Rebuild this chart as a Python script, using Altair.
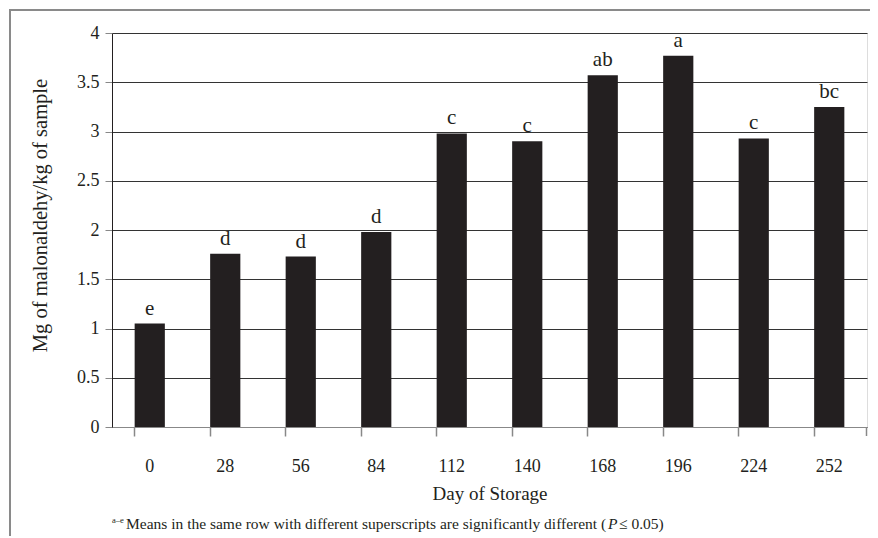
import altair as alt
import pandas as pd

days = ["0", "28", "56", "84", "112", "140", "168", "196", "224", "252"]
values = [1.05, 1.76, 1.73, 1.98, 2.98, 2.90, 3.57, 3.77, 2.93, 3.25]
letters = ["e", "d", "d", "d", "c", "c", "ab", "a", "c", "bc"]

df = pd.DataFrame({"day": days, "value": values, "letter": letters})
one = pd.DataFrame({"k": [0]})

FONT = "Liberation Serif"
W, H = 755, 394

x_enc = alt.X(
    "day:N", sort=days, title="Day of Storage",
    scale=alt.Scale(paddingInner=0.6, paddingOuter=0.3),
    axis=alt.Axis(labelAngle=0, bandPosition=0, tickSize=9, labelPadding=21,
                  domainColor="#888888", tickColor="#888888", tickWidth=1.5,
                  labelFont=FONT, labelFontSize=18, labelColor="#231F20",
                  titleFont=FONT, titleFontSize=19, titleFontWeight="normal",
                  titleColor="#231F20", titlePadding=9, grid=False),
)
y_enc = alt.Y(
    "value:Q", title="Mg of malonaldehy/kg of sample",
    scale=alt.Scale(domain=[0, 4]),
    axis=alt.Axis(values=[0, 0.5, 1, 1.5, 2, 2.5, 3, 3.5, 4], format="~g",
                  tickSize=7, labelPadding=6, tickColor="#888888",
                  domainColor="#231F20", grid=True, gridColor="#333333",
                  gridWidth=1, labelFont=FONT, labelFontSize=18,
                  labelColor="#231F20", titleFont=FONT, titleFontSize=20.5,
                  titleFontWeight="normal", titleColor="#231F20",
                  titlePadding=26, titleY=182),
)

bars = alt.Chart(df).mark_bar(color="#231F20").encode(x=x_enc, y=y_enc)
labels = alt.Chart(df).mark_text(
    font=FONT, fontSize=21, dy=-9, baseline="alphabetic", color="#231F20"
).encode(x=alt.X("day:N", sort=days), y="value:Q", text="letter:N")

end_tick = alt.Chart(one).mark_rule(color="#888888", strokeWidth=1.5).encode(
    x=alt.value(W - 0.5), y=alt.value(H), y2=alt.value(H + 9))

border_top = alt.Chart(one).mark_rule(color="#8a8a8a", strokeWidth=2).encode(
    x=alt.value(-102), x2=alt.value(760), y=alt.value(-23))
border_left = alt.Chart(one).mark_rule(color="#8a8a8a", strokeWidth=2).encode(
    x=alt.value(-102), y=alt.value(-24), y2=alt.value(520))

foot_sup = alt.Chart(one).mark_text(
    font=FONT, fontSize=8.5, align="left", baseline="alphabetic", color="#231F20"
).encode(x=alt.value(0), y=alt.value(490), text=alt.value("a–e"))
foot_main = alt.Chart(one).mark_text(
    font=FONT, fontSize=15.5, align="left", baseline="alphabetic", color="#231F20"
).encode(x=alt.value(14), y=alt.value(496),
         text=alt.value("Means in the same row with different superscripts are significantly different ("))
foot_p = alt.Chart(one).mark_text(
    font=FONT, fontSize=15.5, fontStyle="italic", align="left",
    baseline="alphabetic", color="#231F20"
).encode(x=alt.value(496), y=alt.value(496), text=alt.value("P"))
foot_end = alt.Chart(one).mark_text(
    font=FONT, fontSize=15.5, align="left", baseline="alphabetic", color="#231F20"
).encode(x=alt.value(507), y=alt.value(496), text=alt.value(" ≤ 0.05)"))

chart = alt.layer(
    bars, labels, end_tick, border_top, border_left,
    foot_sup, foot_main, foot_p, foot_end
).properties(
    width=W, height=H,
    autosize=alt.AutoSizeParams(type="none"),
    padding={"left": 104, "top": 25, "right": 3, "bottom": 109},
).configure_view(stroke=None).configure(background="white")

chart.save("out.html", embed_options={"renderer": "svg", "actions": False})
